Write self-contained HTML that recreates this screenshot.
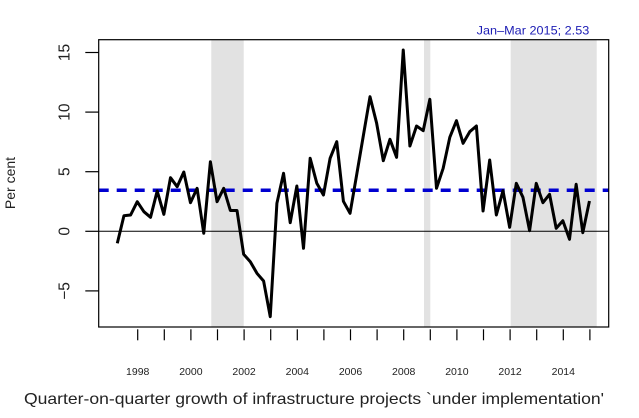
<!DOCTYPE html>
<html>
<head>
<meta charset="utf-8">
<style>
  html, body { margin: 0; padding: 0; background: #ffffff; }
  svg { display: block; font-family: "Liberation Sans", Arial, sans-serif; }
</style>
</head>
<body>
<svg width="639" height="418" viewBox="0 0 639 418" xmlns="http://www.w3.org/2000/svg">
  <rect x="0" y="0" width="639" height="418" fill="#ffffff"/>
  <!-- shaded regions -->
  <rect x="211.3" y="39.7" width="32.4" height="287.3" fill="#e2e2e2"/>
  <rect x="424" y="39.7" width="6.3" height="287.3" fill="#e2e2e2"/>
  <rect x="510.7" y="39.7" width="86" height="287.3" fill="#e2e2e2"/>

  <!-- zero line -->
  <line x1="98.7" y1="231.3" x2="608.7" y2="231.3" stroke="#000" stroke-width="1"/>

  <!-- blue dashed mean line -->
  <line x1="98.7" y1="190.3" x2="608.7" y2="190.3" stroke="#0000d0" stroke-width="3.5" stroke-dasharray="10 8"/>

  <!-- series -->
  <polyline fill="none" stroke="#000" stroke-width="3" stroke-linejoin="round" stroke-linecap="butt"
    points="117.3,243.3 123.95,215.7 130.6,215 137.25,201.7 143.9,211.7 150.55,217.3 157.2,191 163.85,214.3 170.5,177.7 177.15,186.7 183.8,172 190.45,202.7 197.1,188.3 203.75,233.3 210.4,161.7 217.05,201.7 223.7,188.3 230.35,210.5 237,210.5 243.65,254.3 250.3,261.7 256.95,273.3 263.6,281 270.25,316.7 276.9,203.3 283.55,173.3 290.2,222.7 296.85,186 303.5,248.3 310.15,158.3 316.8,183.3 323.45,195 330.1,158.3 336.75,141.7 343.4,201.3 350.05,213.3 356.7,174.6 363.35,135.6 370,96.7 376.65,123.3 383.3,160.7 389.95,139.3 396.6,157.3 403.25,50 409.9,146 416.55,126 423.2,130.7 429.85,99.3 436.5,188.3 443.15,168.3 449.8,137.3 456.45,120.7 463.1,143.3 469.75,131.7 476.4,126 483.05,211 489.7,160 496.35,215 503,190.7 509.65,227.3 516.3,183.3 522.95,197.3 529.6,230.7 536.25,183.3 542.9,202.7 549.55,194.3 556.2,228.3 562.85,220.7 569.5,239.3 576.15,184.3 582.8,232.7 589.45,201"/>

  <!-- plot box -->
  <rect x="98.7" y="39.7" width="510" height="287.3" fill="none" stroke="#000" stroke-width="1.2"/>

  <!-- y ticks -->
  <g stroke="#000" stroke-width="1.2">
    <line x1="85.3" y1="52.5" x2="98.7" y2="52.5"/>
    <line x1="85.3" y1="112.1" x2="98.7" y2="112.1"/>
    <line x1="85.3" y1="171.7" x2="98.7" y2="171.7"/>
    <line x1="85.3" y1="231.3" x2="98.7" y2="231.3"/>
    <line x1="85.3" y1="290.9" x2="98.7" y2="290.9"/>
  </g>
  <!-- y tick labels -->
  <g font-size="15.5" fill="#222" text-anchor="middle">
    <text transform="translate(69.5,52.5) rotate(-90)">15</text>
    <text transform="translate(69.5,112.1) rotate(-90)">10</text>
    <text transform="translate(69.5,171.7) rotate(-90)">5</text>
    <text transform="translate(69.5,231.3) rotate(-90)">0</text>
    <text transform="translate(69.5,290.9) rotate(-90)">−5</text>
  </g>
  <text transform="translate(15,183) rotate(-90)" font-size="14" fill="#222" text-anchor="middle">Per cent</text>

  <!-- x ticks -->
  <g stroke="#000" stroke-width="1.2">
    <line x1="137.7" y1="329.3" x2="137.7" y2="340.3"/>
    <line x1="164.3" y1="329.3" x2="164.3" y2="340.3"/>
    <line x1="190.9" y1="329.3" x2="190.9" y2="340.3"/>
    <line x1="217.5" y1="329.3" x2="217.5" y2="340.3"/>
    <line x1="244.1" y1="329.3" x2="244.1" y2="340.3"/>
    <line x1="270.7" y1="329.3" x2="270.7" y2="340.3"/>
    <line x1="297.3" y1="329.3" x2="297.3" y2="340.3"/>
    <line x1="323.9" y1="329.3" x2="323.9" y2="340.3"/>
    <line x1="350.5" y1="329.3" x2="350.5" y2="340.3"/>
    <line x1="377.1" y1="329.3" x2="377.1" y2="340.3"/>
    <line x1="403.7" y1="329.3" x2="403.7" y2="340.3"/>
    <line x1="430.3" y1="329.3" x2="430.3" y2="340.3"/>
    <line x1="456.9" y1="329.3" x2="456.9" y2="340.3"/>
    <line x1="483.5" y1="329.3" x2="483.5" y2="340.3"/>
    <line x1="510.1" y1="329.3" x2="510.1" y2="340.3"/>
    <line x1="536.7" y1="329.3" x2="536.7" y2="340.3"/>
    <line x1="563.3" y1="329.3" x2="563.3" y2="340.3"/>
    <line x1="589.9" y1="329.3" x2="589.9" y2="340.3"/>
  </g>
  <!-- x tick labels -->
  <g font-size="10.5" fill="#222" text-anchor="middle">
    <text x="137.7" y="375">1998</text>
    <text x="190.9" y="375">2000</text>
    <text x="244.1" y="375">2002</text>
    <text x="297.3" y="375">2004</text>
    <text x="350.5" y="375">2006</text>
    <text x="403.7" y="375">2008</text>
    <text x="456.9" y="375">2010</text>
    <text x="510.1" y="375">2012</text>
    <text x="563.3" y="375">2014</text>
  </g>

  <!-- annotation -->
  <text x="476.7" y="34.3" font-size="12" fill="#1c1cb4" textLength="112.6" lengthAdjust="spacingAndGlyphs">Jan–Mar 2015; 2.53</text>

  <!-- title -->
  <text x="24" y="404.2" font-size="16" fill="#222" textLength="580" lengthAdjust="spacingAndGlyphs">Quarter-on-quarter growth of infrastructure projects `under implementation'</text>
</svg>
</body>
</html>
